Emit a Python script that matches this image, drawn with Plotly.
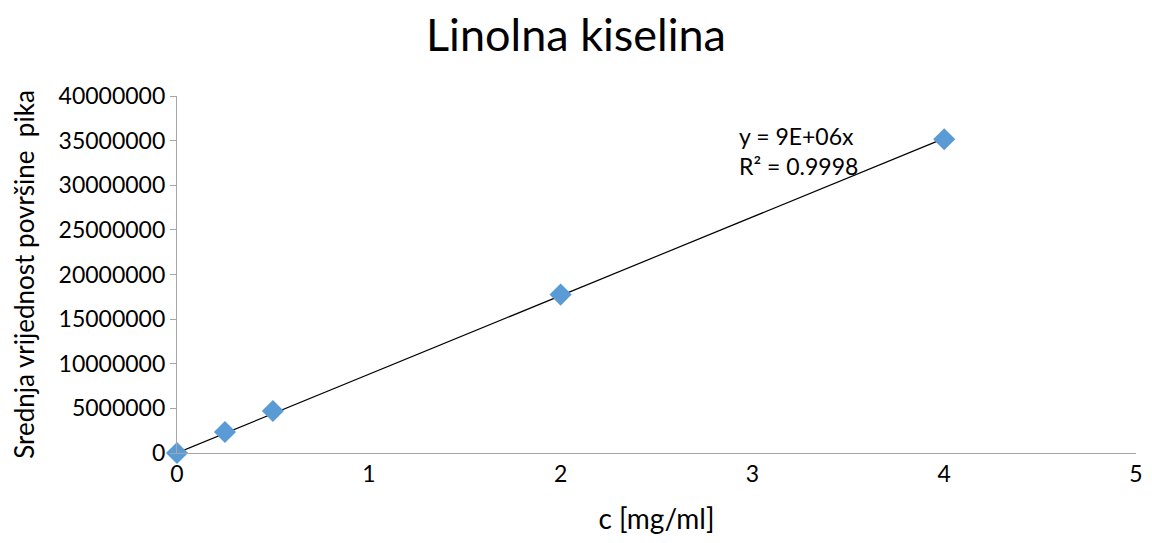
import numpy as np
import plotly.graph_objects as go

conc = [0, 0.25, 0.5, 2, 4]
area = [0, 2350000, 4700000, 17750000, 35150000]
x_ticks = [0, 1, 2, 3, 4, 5]
y_ticks = [0, 5000000, 10000000, 15000000, 20000000, 25000000, 30000000, 35000000, 40000000]

xa = np.array(conc, dtype=float)
ya = np.array(area, dtype=float)
slope = float((xa * ya).sum() / (xa * xa).sum())
fit_x = [min(conc), max(conc)]
fit_y = [slope * v for v in fit_x]

FONT = "Lato"

fig = go.Figure()
fig.add_trace(go.Scatter(x=fit_x, y=fit_y, mode="lines",
                         line=dict(color="black", width=1.2), showlegend=False, hoverinfo="skip"))
fig.add_trace(go.Scatter(x=conc, y=area, mode="markers",
                         marker=dict(symbol="diamond", size=17, color="#5B9BD5"),
                         showlegend=False, cliponaxis=False))

fig.add_annotation(x=2.92, y=33800000, xref="x", yref="y",
                   text="y = 9E+06x<br>R² = 0.9998", showarrow=False,
                   align="left", xanchor="left", yanchor="middle",
                   font=dict(family=FONT, size=23, color="black"))

fig.update_layout(
    width=1136, height=527,
    paper_bgcolor="white", plot_bgcolor="white",
    margin=dict(l=169, r=8, t=88, b=82, autoexpand=False),
    title=dict(text="Linolna kiselina", x=0.5, xanchor="center", y=0.949, yanchor="middle",
               font=dict(family=FONT, size=45, color="black")),
    font=dict(family=FONT, size=23, color="black"),
    xaxis=dict(range=[0, 5], tickvals=x_ticks, showgrid=False, zeroline=False,
               showline=True, linecolor="#A6A6A6", linewidth=1.2, ticks="",
               tickfont=dict(size=23), ticklen=0, automargin=False,
               ticklabeloverflow="allow",
               title=dict(text="c [mg/ml]", standoff=28, font=dict(size=28))),
    yaxis=dict(range=[0, 40000000], tickvals=y_ticks,
               ticktext=[str(v) for v in y_ticks], showgrid=False, zeroline=False,
               showline=True, linecolor="#A6A6A6", linewidth=1.2, ticks="outside",
               ticklen=6, tickcolor="#A6A6A6", tickfont=dict(size=23), automargin=False,
               title=dict(text="Srednja vrijednost površine  pika", standoff=22, font=dict(size=26))),
)

fig.write_html("out.html")
